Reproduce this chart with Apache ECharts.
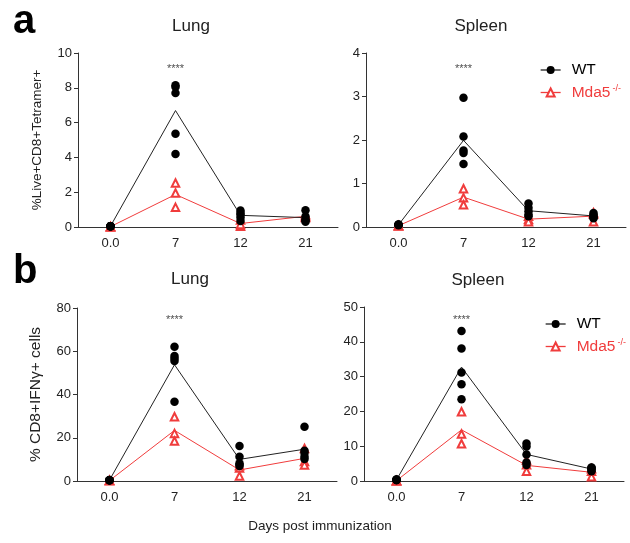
<!DOCTYPE html>
<html><head><meta charset="utf-8">
<script src="https://cdn.jsdelivr.net/npm/echarts@6/dist/echarts.min.js"></script>
<style>html,body{margin:0;padding:0;background:#fff}#c{width:630px;height:543px}</style>
</head><body><div id="c"></div>
<script>
const days = ['0.0', '7', '12', '21'];
// individual animals per day, panel a (%Live+CD8+Tetramer+)
const aLungWT = [[0.05,0.05,0.05,0.05,0.05],[8.15,8.05,7.7,5.36,4.2],[0.95,0.8,0.7,0.55,0.35],[0.96,0.6,0.45,0.38,0.3]];
const aLungKO = [[0.02,0.02,0.02],[2.53,1.95,1.13],[0.05,0.15,0.4],[0.7,0.6,0.55]];
const aSpleenWT = [[0.06,0.05,0.05,0.04,0.05],[2.97,2.08,1.76,1.70,1.45],[0.54,0.44,0.36,0.28,0.25],[0.32,0.28,0.25,0.22,0.2]];
const aSpleenKO = [[0.03,0.03,0.03],[0.88,0.67,0.51],[0.25,0.17,0.12],[0.33,0.3,0.12]];
// panel b (% CD8+IFNγ+ cells)
const bLungWT = [[0.5,0.4,0.5,0.3,0.4],[62.1,57.8,56.7,55.5,36.7],[16.2,11.2,8.2,7.5,6.9],[25.1,14,13,11.2,10.2]];
const bLungKO = [[0.2,0.2,0.2],[29.7,22.0,18.5],[2.3,6.0,7.0],[15,9,7.4]];
const bSpleenWT = [[0.4,0.3,0.3,0.4,0.3],[43.1,38.1,31.2,27.8,23.5],[10.8,9.9,7.6,5.3,4.6],[3.9,3.8,3.5,3.2,2.8]];
const bSpleenKO = [[0.1,0.1,0.1],[19.9,13.5,10.7],[6.0,2.8,4.7],[1.2,2.8,3.5]];
// y-axis scales
const yMax = [10, 4, 80, 50];
const yStep = [2, 1, 20, 10];
// significance annotation height (data units) at day 7
const sigLevel = [9.1, 3.63, 74.5, 46.3];
const panelTitles = ['Lung', 'Spleen', 'Lung', 'Spleen'];

const RED = '#f03c3c';
const BLK = '#000';
const AX = '#333';
const FONT = 'Liberation Sans, Arial, sans-serif';

const panels = [[aLungWT, aLungKO],[aSpleenWT, aSpleenKO],[bLungWT, bLungKO],[bSpleenWT, bSpleenKO]];
const grids = [
  {left: 78, top: 53, width: 260, height: 174},
  {left: 366, top: 53, width: 260, height: 174},
  {left: 77, top: 308, width: 260, height: 173},
  {left: 364, top: 307, width: 260, height: 174}
];
const mean = a => a.reduce((s, v) => s + v, 0) / a.length;
const pts = arr => { const o = []; arr.forEach((g, i) => g.forEach(v => o.push([days[i], v]))); return o; };

const xAxis = [], yAxis = [], series = [];
panels.forEach((p, k) => {
  xAxis.push({type: 'category', gridIndex: k, data: days, boundaryGap: true,
    axisLine: {lineStyle: {color: AX, width: 1}},
    axisTick: {alignWithLabel: true, length: 4, lineStyle: {color: AX}},
    axisLabel: {color: '#222', fontSize: 13, fontFamily: FONT, margin: 10}});
  const y = {type: 'value', gridIndex: k, min: 0, max: yMax[k], interval: yStep[k],
    splitLine: {show: false},
    axisLine: {show: true, lineStyle: {color: AX, width: 1}},
    axisTick: {show: true, length: 4, lineStyle: {color: AX}},
    axisLabel: {color: '#222', fontSize: 13, fontFamily: FONT, margin: 6}};
  if (k === 0) Object.assign(y, {name: '%Live+CD8+Tetramer+', nameLocation: 'middle', nameGap: 34, nameTextStyle: {fontSize: 13.5, color: '#222', fontFamily: FONT}});
  if (k === 2) Object.assign(y, {name: '% CD8+IFNγ+ cells', nameLocation: 'middle', nameGap: 33, nameTextStyle: {fontSize: 15.5, color: '#222', fontFamily: FONT}});
  yAxis.push(y);
  const [wt, ko] = p;
  series.push({name: 'Mda5', type: 'line', xAxisIndex: k, yAxisIndex: k, data: ko.map(mean),
    symbol: 'emptyTriangle', symbolSize: 7, showSymbol: false, lineStyle: {color: RED, width: 1}, itemStyle: {color: RED}, z: 2, silent: true});
  series.push({name: 'WT', type: 'line', xAxisIndex: k, yAxisIndex: k, data: wt.map(mean),
    symbol: 'circle', symbolSize: 8, showSymbol: false, lineStyle: {color: '#222', width: 1}, itemStyle: {color: BLK}, z: 2, silent: true});
  series.push({name: 'Mda5', type: 'scatter', xAxisIndex: k, yAxisIndex: k, data: pts(ko),
    symbol: 'emptyTriangle', symbolSize: 7.5, itemStyle: {color: RED, borderWidth: 1, opacity: 1}, z: 3});
  series.push({name: 'WT', type: 'scatter', xAxisIndex: k, yAxisIndex: k, data: pts(wt),
    symbol: 'circle', symbolSize: 8.5, itemStyle: {color: BLK, opacity: 1}, z: 4});
  series.push({type: 'scatter', xAxisIndex: k, yAxisIndex: k, data: [['7', sigLevel[k]]], symbolSize: 0, silent: true,
    label: {show: true, position: 'inside', formatter: '****', fontSize: 11, color: '#222', fontFamily: FONT}});
});

const legendRich = {
  wt: {fontSize: 15.5, color: '#000', fontFamily: FONT, padding: [0, 0, 0, 6]},
  ko: {fontSize: 15.5, color: RED, fontFamily: FONT, padding: [0, 0, 0, 6]},
  sup: {fontSize: 9, color: RED, fontFamily: FONT, verticalAlign: 'top', padding: [0, 0, 8, 2]}
};
const legendFmt = n => n === 'WT' ? '{wt|WT}' : '{ko|Mda5}{sup|-/-}';
const mkLegend = (left, top) => ({left, top, padding: 0, orient: 'vertical', itemGap: 6, itemWidth: 20, itemHeight: 10,
  lineStyle: {width: 1.3}, itemStyle: {borderWidth: 1},
  data: ['WT', 'Mda5'], formatter: legendFmt, textStyle: {fontSize: 15.5, rich: legendRich}, selectedMode: false});

const chart = echarts.init(document.getElementById('c'), null, {renderer: 'canvas'});
const titleStyle = {fontSize: 17, fontWeight: 'normal', color: '#222', fontFamily: FONT};
chart.setOption({
  animation: false,
  grid: grids,
  xAxis, yAxis, series,
  legend: [mkLegend(540, 62), mkLegend(545, 316)],
  title: [
    {text: panelTitles[0], left: 186, top: 13, textAlign: 'center', textStyle: titleStyle},
    {text: panelTitles[1], left: 476, top: 13, textAlign: 'center', textStyle: titleStyle},
    {text: panelTitles[2], left: 185, top: 266, textAlign: 'center', textStyle: titleStyle},
    {text: panelTitles[3], left: 473, top: 267, textAlign: 'center', textStyle: titleStyle},
    {text: 'Days post immunization', left: 315, top: 514, textAlign: 'center', textStyle: {fontSize: 13.5, fontWeight: 'normal', color: '#222', fontFamily: FONT}}
  ],
  graphic: [
    {type: 'text', x: 13, y: 42, style: {text: 'a', fontSize: 40, fontWeight: 'bold', fill: '#000', fontFamily: FONT, verticalAlign: 'bottom'}},
    {type: 'text', x: 13, y: 292, style: {text: 'b', fontSize: 40, fontWeight: 'bold', fill: '#000', fontFamily: FONT, verticalAlign: 'bottom'}}
  ]
});
</script></body></html>
